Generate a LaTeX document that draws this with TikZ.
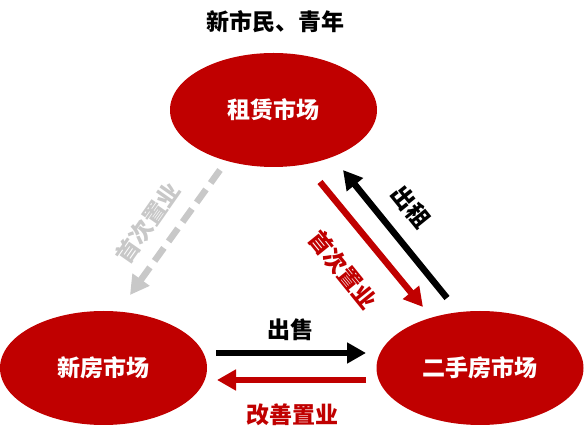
\documentclass[tikz,border=0pt]{standalone}
\usepackage{fontspec}
\newfontfamily\cjk{Noto Sans CJK SC}
\usetikzlibrary{shapes.geometric,arrows.meta}
\definecolor{hongse}{RGB}{192,0,0}
\definecolor{huise}{RGB}{200,200,200}
\begin{document}
\begin{tikzpicture}[x=1pt,y=-1pt,
    market/.style={ellipse,fill=hongse,minimum width=207pt,minimum height=114pt,
      inner sep=0pt,text=white,font=\cjk\bfseries\fontsize{23}{28}\selectfont},
    wenzi/.style={inner sep=0pt,font=\cjk\bfseries\fontsize{23}{28}\selectfont},
    flow/.style={line width=6.5pt,-{Triangle[length=19pt,width=20pt]}}]
      \useasboundingbox (0,0) rectangle (584,443);
      \node[wenzi] (title) at (275,22) {新市民、青年};
      \node[market] (zl) at (273.5,110) {租赁市场};
      \node[market] (xf) at (103.5,368) {新房市场};
      \node[market] (esf) at (480,368) {二手房市场};
      \draw [flow,huise,dash pattern=on 16pt off 8pt] ([xshift=-53.5pt,yshift=-60pt]zl.center) -- ([xshift=26.5pt,yshift=73pt]xf.center);
      \draw [flow,hongse] ([xshift=46.5pt,yshift=-72pt]zl.center) -- ([xshift=-57pt,yshift=61pt]esf.center);
      \draw [flow,black] ([xshift=-33pt,yshift=70pt]esf.center) -- ([xshift=69.5pt,yshift=-60pt]zl.center);
      \draw [flow,black] ([xshift=112.5pt,yshift=15pt]xf.center) -- ([xshift=-114pt,yshift=15pt]esf.center);
      \draw [flow,hongse] ([xshift=-114pt,yshift=-12pt]esf.center) -- ([xshift=113.5pt,yshift=-12pt]xf.center);
      \node[wenzi] (chushou) at (290,330) {出售};
      \node[wenzi,text=hongse] (gaishan) at (292,415) {改善置业};
      \node[wenzi,rotate=-51] (chuzu) at (411,207) {出租};
      \node[wenzi,text=hongse,rotate=-51] (shouci2) at (343,270) {首次置业};
      \node[wenzi,text=huise,rotate=55] (shouci1) at (148,223) {首次置业};
    \end{tikzpicture}
\end{document}
